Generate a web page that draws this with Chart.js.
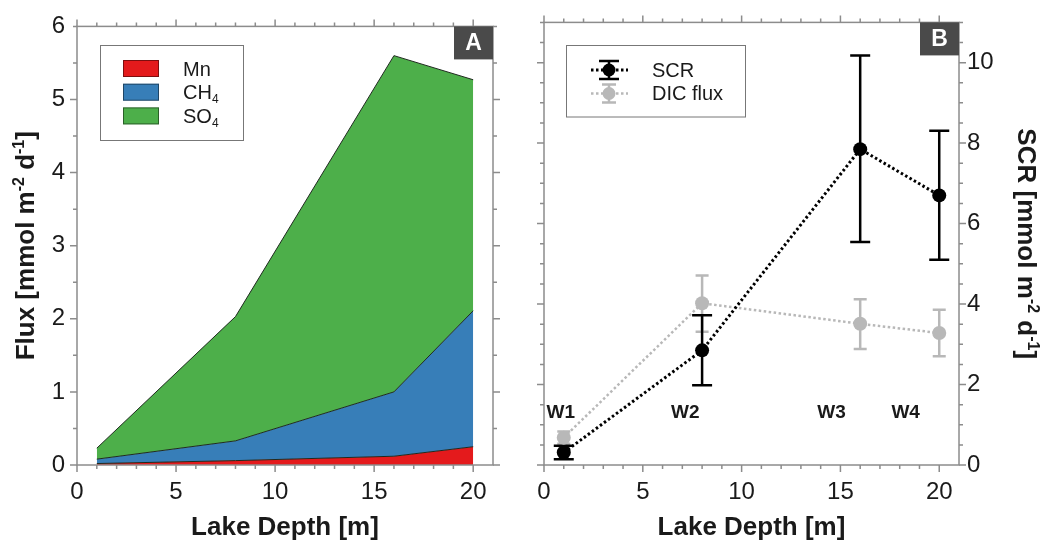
<!DOCTYPE html>
<html>
<head>
<meta charset="utf-8">
<script src="https://cdn.jsdelivr.net/npm/chart.js@4.4.0/dist/chart.umd.min.js"></script>
<style>
html, body { margin: 0; padding: 0; background: #fff; }
#wrap { position: relative; width: 1060px; height: 543px; overflow: hidden; }
#panelA { position: absolute; left: 0; top: 0; }
#panelB { position: absolute; left: 520px; top: 0; }
</style>
</head>
<body>
<div id="wrap">
  <canvas id="panelA" width="520" height="543"></canvas>
  <canvas id="panelB" width="540" height="543"></canvas>
</div>
<script>
// sampling depths (m) for wells W1..W4
const depths = [1, 8, 16, 20];
const wellNames = ['W1', 'W2', 'W3', 'W4'];

// panel A: stacked fluxes (mmol m-2 d-1)
const mnFlux = [0.02, 0.06, 0.12, 0.25];
const ch4Flux = [0.06, 0.27, 0.88, 1.86];
const so4Flux = [0.15, 1.70, 4.60, 3.16];

// panel B: SCR and DIC flux with error ranges
const scr = [0.31, 2.85, 7.85, 6.70];
const scrLow = [0.14, 1.98, 5.54, 5.10];
const scrHigh = [0.48, 3.72, 10.18, 8.31];
const dic = [0.68, 4.02, 3.51, 3.28];
const dicLow = [0.53, 3.31, 2.88, 2.70];
const dicHigh = [0.83, 4.71, 4.12, 3.86];

const xTicks = [0, 5, 10, 15, 20];

const FONT = "'Liberation Sans', Arial, Helvetica, sans-serif";
const INK = '#1a1a1a';
const AXIS_GREY = '#8c8c8c';
const RED = '#e41a1c', BLUE = '#377eb8', GREEN = '#4daf4a';
const DIC_GREY = '#b8b8b8';

function pts(ys) {
    return depths.map((x, i) => ({ x: x, y: ys[i] }));
}

// draws text made of normal / superscript / subscript parts
function drawRich(ctx, parts, x, y, angle, size, bold, align) {
    ctx.save();
    ctx.translate(x, y);
    ctx.rotate(angle);
    const w = bold ? 'bold ' : '';
    const small = Math.round(size * 0.6);
    const fontOf = p => p[1] ? w + small + 'px ' + FONT : w + size + 'px ' + FONT;
    let total = 0;
    parts.forEach(p => { ctx.font = fontOf(p); total += ctx.measureText(p[0]).width; });
    let cx = align === 'center' ? -total / 2 : 0;
    const base = size * 0.36;
    ctx.fillStyle = INK;
    ctx.textBaseline = 'alphabetic';
    ctx.textAlign = 'left';
    parts.forEach(p => {
        ctx.font = fontOf(p);
        let dy = base;
        if (p[1] === 'sup') dy = base - size * 0.4;
        if (p[1] === 'sub') dy = base + size * 0.2;
        ctx.fillText(p[0], cx, dy);
        cx += ctx.measureText(p[0]).width;
    });
    ctx.restore();
}

function isMajor(v, step) {
    return Math.abs(v / step - Math.round(v / step)) < 1e-6;
}

// box, minor/major ticks on all four sides, panel letter
const framePlugin = {
    id: 'frame',
    afterDatasetsDraw(chart, args, o) {
        const { ctx, chartArea: a } = chart;
        const x = chart.scales.x, y = chart.scales.y;
        ctx.save();
        ctx.strokeStyle = AXIS_GREY;
        ctx.lineWidth = 1.5;
        ctx.strokeRect(a.left, a.top, a.right - a.left, a.bottom - a.top);
        ctx.beginPath();
        for (let v = 0; v <= 20 + 1e-9; v += 1) {
            const px = x.getPixelForValue(v);
            const len = isMajor(v, 5) ? 7 : 4;
            ctx.moveTo(px, a.bottom); ctx.lineTo(px, a.bottom + len);
            ctx.moveTo(px, a.top); ctx.lineTo(px, a.top - len);
        }
        for (let v = 0; v <= o.yMax + 1e-9; v += 0.5) {
            const py = y.getPixelForValue(v);
            const len = isMajor(v, o.yMajor) && v < o.yMax ? 7 : 4;
            ctx.moveTo(a.left, py); ctx.lineTo(a.left - len, py);
            ctx.moveTo(a.right, py); ctx.lineTo(a.right + len, py);
        }
        ctx.stroke();

        // panel letter
        ctx.fillStyle = '#4a4a4a';
        ctx.fillRect(a.right - 39, a.top, 39, 33);
        ctx.fillStyle = '#fff';
        ctx.font = 'bold 23px ' + FONT;
        ctx.textAlign = 'center';
        ctx.textBaseline = 'middle';
        ctx.fillText(o.letter, a.right - 19.5, a.top + 17);
        ctx.restore();
    }
};

// ---------- panel A ----------
const legendA = {
    id: 'legendA',
    afterDraw(chart) {
        const ctx = chart.ctx;
        ctx.save();
        ctx.strokeStyle = '#777';
        ctx.lineWidth = 1;
        ctx.strokeRect(100.5, 45.5, 143, 95);
        const rows = [
            { c: RED, parts: [['Mn']] },
            { c: BLUE, parts: [['CH'], ['4', 'sub']] },
            { c: GREEN, parts: [['SO'], ['4', 'sub']] }
        ];
        rows.forEach((r, i) => {
            const top = 60 + i * 23.7;
            ctx.fillStyle = r.c;
            ctx.fillRect(123, top, 36, 17);
            ctx.strokeStyle = 'rgba(0,0,0,0.45)';
            ctx.strokeRect(123.5, top + 0.5, 35, 16);
            drawRich(ctx, r.parts, 183, top + 8.5, 0, 20, false, 'left');
        });
        ctx.restore();
    }
};

const titlesA = {
    id: 'titlesA',
    afterDraw(chart) {
        const a = chart.chartArea;
        drawRich(chart.ctx,
            [['Flux [mmol m'], ['-2', 'sup'], [' d'], ['-1', 'sup'], [']']],
            25, (a.top + a.bottom) / 2, -Math.PI / 2, 26, true, 'center');
    }
};

new Chart(document.getElementById('panelA'), {
    type: 'line',
    data: {
        datasets: [
            { label: 'Mn', data: pts(mnFlux), backgroundColor: RED, fill: 'origin' },
            { label: 'CH4', data: pts(ch4Flux), backgroundColor: BLUE, fill: '-1' },
            { label: 'SO4', data: pts(so4Flux), backgroundColor: GREEN, fill: '-1' }
        ].map(d => Object.assign(d, {
            borderColor: '#1f2a1f', borderWidth: 1, pointRadius: 0, tension: 0
        }))
    },
    options: {
        responsive: false,
        animation: false,
        layout: { padding: { top: 22, right: 27, left: 0, bottom: 0 } },
        plugins: {
            legend: { display: false },
            tooltip: { enabled: false },
            frame: { yMax: 6, yMajor: 1, letter: 'A' }
        },
        scales: {
            x: {
                type: 'linear', min: 0, max: 21,
                afterBuildTicks: s => { s.ticks = xTicks.map(v => ({ value: v })); },
                afterFit: s => { s.height = 78; },
                grid: { display: false, drawTicks: false },
                border: { display: false },
                ticks: { font: { size: 24, family: FONT }, color: INK, padding: 13, maxRotation: 0 },
                title: { display: true, text: 'Lake Depth [m]', color: INK,
                         font: { size: 26, weight: 'bold', family: FONT }, padding: 0 }
            },
            y: {
                stacked: true, min: 0, max: 6,
                afterFit: s => { s.width = 77; },
                grid: { display: false, drawTicks: false },
                border: { display: false },
                ticks: { stepSize: 1, font: { size: 24, family: FONT }, color: INK, padding: 12 }
            }
        }
    },
    plugins: [framePlugin, legendA, titlesA]
});

// ---------- panel B ----------
const wellLabelX = [0.85, 7.15, 14.55, 18.3];
const wellLabelY = 1.3;

const errorBars = {
    id: 'errorBars',
    beforeDatasetsDraw(chart) {
        const ctx = chart.ctx, x = chart.scales.x, y = chart.scales.y;
        const sets = [
            { lo: dicLow, hi: dicHigh, c: DIC_GREY, cap: 6.5 },
            { lo: scrLow, hi: scrHigh, c: '#000', cap: 10 }
        ];
        ctx.save();
        ctx.lineWidth = 2.5;
        sets.forEach(s => {
            ctx.strokeStyle = s.c;
            ctx.beginPath();
            depths.forEach((d, i) => {
                const px = x.getPixelForValue(d);
                const y1 = y.getPixelForValue(s.lo[i]);
                const y2 = y.getPixelForValue(s.hi[i]);
                ctx.moveTo(px, y1); ctx.lineTo(px, y2);
                ctx.moveTo(px - s.cap, y1); ctx.lineTo(px + s.cap, y1);
                ctx.moveTo(px - s.cap, y2); ctx.lineTo(px + s.cap, y2);
            });
            ctx.stroke();
        });
        ctx.restore();
    },
    afterDraw(chart) {
        const ctx = chart.ctx, x = chart.scales.x, y = chart.scales.y;
        ctx.save();
        ctx.fillStyle = INK;
        ctx.font = 'bold 19px ' + FONT;
        ctx.textAlign = 'center';
        ctx.textBaseline = 'middle';
        wellNames.forEach((n, i) => {
            ctx.fillText(n, x.getPixelForValue(wellLabelX[i]), y.getPixelForValue(wellLabelY));
        });
        ctx.restore();
    }
};

const legendB = {
    id: 'legendB',
    afterDraw(chart) {
        const ctx = chart.ctx;
        ctx.save();
        ctx.strokeStyle = '#777';
        ctx.lineWidth = 1;
        ctx.strokeRect(46.5, 45.5, 179, 71.5);
        const rows = [
            { c: '#000', text: 'SCR', cy: 70, lw: 3, cap: 10 },
            { c: DIC_GREY, text: 'DIC flux', cy: 93.5, lw: 2.5, cap: 7 }
        ];
        rows.forEach(r => {
            ctx.strokeStyle = r.c;
            ctx.lineWidth = r.lw;
            ctx.setLineDash([2.5, 2.5]);
            ctx.beginPath();
            ctx.moveTo(71, r.cy); ctx.lineTo(108, r.cy);
            ctx.stroke();
            ctx.setLineDash([]);
            ctx.lineWidth = 2.5;
            ctx.beginPath();
            ctx.moveTo(89, r.cy - 9); ctx.lineTo(89, r.cy + 9);
            ctx.moveTo(89 - r.cap, r.cy - 9); ctx.lineTo(89 + r.cap, r.cy - 9);
            ctx.moveTo(89 - r.cap, r.cy + 9); ctx.lineTo(89 + r.cap, r.cy + 9);
            ctx.stroke();
            ctx.fillStyle = r.c;
            ctx.beginPath();
            ctx.arc(89, r.cy, 6.5, 0, Math.PI * 2);
            ctx.fill();
            ctx.fillStyle = INK;
            ctx.font = '20px ' + FONT;
            ctx.textAlign = 'left';
            ctx.textBaseline = 'middle';
            ctx.fillText(r.text, 132, r.cy + 1);
        });
        ctx.restore();
    }
};

const titlesB = {
    id: 'titlesB',
    afterDraw(chart) {
        const a = chart.chartArea;
        drawRich(chart.ctx,
            [['SCR [mmol m'], ['-2', 'sup'], [' d'], ['-1', 'sup'], [']']],
            507, (a.top + a.bottom) / 2, Math.PI / 2, 26, true, 'center');
    }
};

new Chart(document.getElementById('panelB'), {
    type: 'line',
    data: {
        datasets: [
            {
                label: 'SCR', data: pts(scr),
                borderColor: '#000', backgroundColor: '#000',
                borderWidth: 3, borderDash: [2.5, 2.5],
                pointRadius: 7, pointBorderWidth: 0, pointBackgroundColor: '#000'
            },
            {
                label: 'DIC flux', data: pts(dic),
                borderColor: DIC_GREY, backgroundColor: DIC_GREY,
                borderWidth: 2.5, borderDash: [2.5, 2.5],
                pointRadius: 7, pointBorderWidth: 0, pointBackgroundColor: DIC_GREY
            }
        ]
    },
    options: {
        responsive: false,
        animation: false,
        layout: { padding: { top: 22, right: 0, left: 24, bottom: 0 } },
        plugins: {
            legend: { display: false },
            tooltip: { enabled: false },
            frame: { yMax: 11, yMajor: 2, letter: 'B' }
        },
        scales: {
            x: {
                type: 'linear', min: 0, max: 21,
                afterBuildTicks: s => { s.ticks = xTicks.map(v => ({ value: v })); },
                afterFit: s => { s.height = 78; },
                grid: { display: false, drawTicks: false },
                border: { display: false },
                ticks: { font: { size: 24, family: FONT }, color: INK, padding: 13, maxRotation: 0 },
                title: { display: true, text: 'Lake Depth [m]', color: INK,
                         font: { size: 26, weight: 'bold', family: FONT }, padding: 0 }
            },
            y: {
                position: 'right', min: 0, max: 11,
                afterFit: s => { s.width = 101; },
                grid: { display: false, drawTicks: false },
                border: { display: false },
                ticks: { stepSize: 2, includeBounds: false, font: { size: 24, family: FONT },
                         color: INK, padding: 8 }
            }
        }
    },
    plugins: [errorBars, framePlugin, legendB, titlesB]
});
</script>
</body>
</html>
